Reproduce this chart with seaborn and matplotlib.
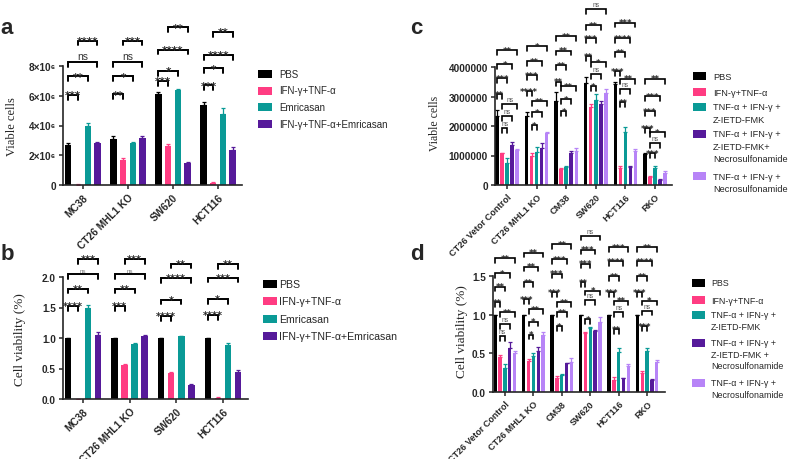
import numpy as np
import pandas as pd
import matplotlib
matplotlib.use("Agg")
import matplotlib.pyplot as plt
from matplotlib.patches import Rectangle
import seaborn as sns

# ---------------- data ----------------
lines_ab = ["MC38", "CT26 MHL1 KO", "SW620", "HCT116"]
treat_ab = ["PBS", "IFN-γ+TNF-α", "Emricasan", "IFN-γ+TNF-α+Emricasan"]

lines_cd = ["CT26 Vetor Control", "CT26 MHL1 KO", "CM38", "SW620", "HCT116", "RKO"]
treat_cd = ["PBS", "IFN-γ+TNF-α", "TNF-α + IFN-γ + Z-IETD-FMK",
            "TNF-α + IFN-γ + Z-IETD-FMK + Necrosulfonamide",
            "TNF-α + IFN-γ + Necrosulfonamide"]
legend_c = ["PBS", "IFN-γ+TNF-α", "TNF-α + IFN-γ +\nZ-IETD-FMK",
            "TNF-α + IFN-γ +\nZ-IETD-FMK+\nNecrosulfonamide",
            "TNF-α + IFN-γ +\nNecrosulfonamide"]
legend_d = ["PBS", "IFN-γ+TNF-α", "TNF-α + IFN-γ +\nZ-IETD-FMK",
            "TNF-α + IFN-γ +\nZ-IETD-FMK +\nNecrosulfonamide",
            "TNF-α + IFN-γ +\nNecrosulfonamide"]

# panel a - viable cells, one row per treatment (columns follow lines_ab)
a_mean = [[2.70e6, 3.10e6, 6.15e6, 5.35e6],
          [0.03e6, 1.70e6, 2.65e6, 0.15e6],
          [4.00e6, 2.80e6, 6.40e6, 4.80e6],
          [2.85e6, 3.15e6, 1.45e6, 2.35e6]]
a_sem = [[0.10e6, 0.18e6, 0.10e6, 0.22e6],
         [0.01e6, 0.10e6, 0.10e6, 0.04e6],
         [0.16e6, 0.10e6, 0.04e6, 0.35e6],
         [0.03e6, 0.15e6, 0.08e6, 0.20e6]]
a_yticks = [0, 2e6, 4e6, 6e6, 8e6]
a_yticklabels = ["0", "2×10⁶", "4×10⁶", "6×10⁶", "8×10⁶"]

# panel b - cell viability
b_mean = [[1.00, 1.00, 1.00, 1.00],
          [0.005, 0.55, 0.43, 0.02],
          [1.49, 0.90, 1.03, 0.88],
          [1.05, 1.03, 0.23, 0.44]]
b_sem = [[0.0, 0.0, 0.0, 0.0],
         [0.0, 0.02, 0.01, 0.01],
         [0.05, 0.02, 0.01, 0.04],
         [0.05, 0.02, 0.01, 0.03]]
b_yticks = [0.0, 0.5, 1.0, 1.5, 2.0]

# panel c - viable cells
c_mean = [[2.35e6, 2.35e6, 2.86e6, 3.45e6, 3.42e6, 1.05e6],
          [1.07e6, 0.97e6, 0.53e6, 2.64e6, 0.56e6, 0.27e6],
          [0.76e6, 1.12e6, 0.62e6, 2.89e6, 1.78e6, 0.57e6],
          [1.35e6, 1.24e6, 1.07e6, 2.74e6, 0.62e6, 0.18e6],
          [1.19e6, 1.75e6, 1.15e6, 3.11e6, 1.15e6, 0.42e6]]
c_sem = [[0.20e6, 0.12e6, 0.30e6, 0.20e6, 0.06e6, 0.03e6],
         [0.03e6, 0.12e6, 0.03e6, 0.12e6, 0.10e6, 0.05e6],
         [0.17e6, 0.17e6, 0.02e6, 0.20e6, 0.20e6, 0.06e6],
         [0.12e6, 0.20e6, 0.07e6, 0.12e6, 0.03e6, 0.02e6],
         [0.03e6, 0.04e6, 0.10e6, 0.15e6, 0.08e6, 0.05e6]]
c_yticks = [0, 1000000, 2000000, 3000000, 4000000]

# panel d - cell viability
d_mean = [[1.00, 1.00, 1.00, 1.00, 1.00, 1.00],
          [0.45, 0.40, 0.185, 0.76, 0.16, 0.24],
          [0.31, 0.47, 0.215, 0.83, 0.52, 0.53],
          [0.57, 0.53, 0.37, 0.79, 0.175, 0.155],
          [0.50, 0.74, 0.39, 0.90, 0.34, 0.39]]
d_sem = [[0, 0, 0, 0, 0, 0],
         [0.03, 0.03, 0.02, 0.02, 0.03, 0.03],
         [0.05, 0.04, 0.02, 0.01, 0.05, 0.04],
         [0.08, 0.05, 0.01, 0.01, 0.01, 0.01],
         [0.03, 0.03, 0.05, 0.07, 0.02, 0.03]]
d_yticks = [0.0, 0.5, 1.0, 1.5]

# significance: comparisons (hue index pairs), labels per cell line
pairs_ab = [(0, 1), (0, 2), (0, 3), (1, 3)]
a_sig = [["***", "**", "ns", "****"], ["**", "*", "ns", "***"],
         ["***", "*", "****", "**"], ["***", "*", "****", "**"]]
a_sig_y = [[6.05e6, 7.3e6, 8.27e6, 9.7e6], [6.1e6, 7.3e6, 8.27e6, 9.7e6],
           [7.0e6, 7.66e6, 9.1e6, 10.6e6], [6.7e6, 7.85e6, 8.74e6, 10.3e6]]
b_sig = [["****", "**", "ns", "***"], ["***", "**", "ns", "***"],
         ["****", "*", "****", "**"], ["****", "*", "***", "**"]]
b_sig_y = [[1.53, 1.81, 2.05, 2.3], [1.53, 1.81, 2.05, 2.3],
           [1.36, 1.63, 1.98, 2.22], [1.38, 1.64, 1.99, 2.21]]

pairs_cd = [(1, 2), (1, 3), (1, 4), (0, 1), (0, 2), (0, 3), (0, 4)]
c_sig = [["ns", "ns", "ns", "**", "***", "*", "**"],
         ["*", "*", "**", "****", "***", "**", "*"],
         ["*", "*", "**", "**", "**", "**", "**"],
         ["*", "ns", "*", "**", "***", "**", "ns"],
         ["**", "ns", "**", "***", "**", "****", "***"],
         ["***", "ns", "*", "***", "***", "***", "**"]]
c_sig_y = [[1.93e6, 2.34e6, 2.75e6, 3.08e6, 3.63e6, 4.10e6, 4.58e6],
           [2.03e6, 2.47e6, 2.85e6, 3.19e6, 3.73e6, 4.20e6, 4.70e6],
           [2.50e6, 2.90e6, 3.35e6, 3.50e6, 4.07e6, 4.55e6, 5.05e6],
           [3.35e6, 3.76e6, 4.17e6, 4.37e6, 4.98e6, 5.42e6, 5.96e6],
           [2.80e6, 3.25e6, 3.60e6, 3.87e6, 4.50e6, 4.98e6, 5.50e6],
           [1.08e6, 1.42e6, 1.80e6, 1.93e6, 2.50e6, 3.02e6, 3.60e6]]
d_sig = [["ns", "ns", "**", "**", "**", "*", "**"],
         ["*", "*", "**", "***", "**", "**", "**"],
         ["*", "**", "**", "***", "***", "***", "**"],
         ["*", "ns", "*", "**", "***", "***", "ns"],
         ["**", "ns", "**", "***", "**", "****", "***"],
         ["***", "ns", "*", "***", "**", "****", "**"]]
d_sig_y = [[0.72, 0.88, 1.03, 1.16, 1.36, 1.54, 1.73],
           [0.74, 0.91, 1.07, 1.20, 1.42, 1.62, 1.80],
           [0.85, 1.03, 1.16, 1.29, 1.53, 1.72, 1.91],
           [0.94, 1.19, 1.31, 1.42, 1.66, 1.84, 2.02],
           [0.81, 1.03, 1.18, 1.29, 1.50, 1.69, 1.87],
           [0.85, 1.05, 1.18, 1.29, 1.50, 1.69, 1.87]]

pal_ab = ["#000000", "#ff3c82", "#0a9a96", "#561a9a"]
pal_cd = ["#000000", "#ff3c82", "#0a9a96", "#561a9a", "#b784f7"]

# ---------------- style ----------------
sns.set_style("ticks")
plt.rcParams["font.family"] = ["Liberation Sans", "DejaVu Sans"]
plt.rcParams["axes.linewidth"] = 1.2
plt.rcParams["xtick.major.width"] = 1.1
plt.rcParams["ytick.major.width"] = 1.1
plt.rcParams["xtick.major.size"] = 3
plt.rcParams["ytick.major.size"] = 3

W, H = 790, 460
fig = plt.figure(figsize=(7.9, 4.6), dpi=100)


def fx(px):
    return px / W


def fy(py):
    return 1 - py / H


def add_axes(left, top, right, bottom):
    return fig.add_axes([fx(left), fy(bottom), fx(right - left), (bottom - top) / H])


def draw_bars(ax, mean, sem, lines, treats, pal, width, gap):
    rows = []
    for t, vals in zip(treats, mean):
        for ln, v in zip(lines, vals):
            rows.append({"line": ln, "treat": t, "value": v})
    df = pd.DataFrame(rows)
    sns.barplot(data=df, x="line", y="value", hue="treat", order=lines,
                hue_order=treats, palette=pal, width=width, gap=gap,
                errorbar=None, saturation=1, legend=False, linewidth=0, ax=ax)
    xs = []
    conts = list(ax.containers)
    for h, cont in enumerate(conts):
        cx = [p.get_x() + p.get_width() / 2 for p in cont]
        cy = [p.get_height() for p in cont]
        ax.errorbar(cx, cy, yerr=[np.zeros(len(cx)), sem[h]], fmt="none",
                    ecolor=pal[h], elinewidth=0.9, capsize=1.5, capthick=0.9)
        xs.append(cx)
    ax.set_xlabel("")
    ax.set_ylabel("")
    return xs


def draw_sig(ax, xs, pairs, heights, labels, leg, lw, star_fs, ns_fs, ns_col):
    for g in range(len(heights)):
        for (i, j), y, lab in zip(pairs, heights[g], labels[g]):
            x1, x2 = xs[i][g], xs[j][g]
            ax.plot([x1, x1, x2, x2], [y - leg, y, y, y - leg], color="k",
                    lw=lw, clip_on=False, solid_joinstyle="miter")
            if lab == "ns":
                ax.annotate(lab, ((x1 + x2) / 2, y), xytext=(0, 0.8),
                            textcoords="offset points", ha="center", va="bottom",
                            fontsize=ns_fs, color=ns_col, annotation_clip=False)
            else:
                ax.annotate(lab, ((x1 + x2) / 2, y), xytext=(0, -0.32 * star_fs),
                            textcoords="offset points", ha="center", va="baseline",
                            fontsize=star_fs, fontweight="bold",
                            family="DejaVu Sans", annotation_clip=False)


def finish(ax, lines, xlim, ylim, yticks, yticklabels, xfs):
    ax.set_xlim(*xlim)
    ax.set_ylim(*ylim)
    ax.set_xticks(range(len(lines)))
    ax.set_xticklabels(lines, rotation=45, ha="right", va="top",
                       rotation_mode="anchor", fontweight="bold", fontsize=xfs)
    ax.set_yticks(yticks)
    ax.set_yticklabels(yticklabels, fontweight="bold", fontsize=7.2)
    ax.tick_params(axis="x", pad=2)
    ax.tick_params(axis="y", pad=2)
    sns.despine(ax=ax)


def draw_legend(x_box, x_text, rows_y, labels, pal, fs, line_h, box_w, box_h):
    for y0, lab, col in zip(rows_y, labels, pal):
        fig.add_artist(Rectangle((fx(x_box), fy(y0 + box_h / 2)), box_w / W, box_h / H,
                                 transform=fig.transFigure, color=col, lw=0))
        for k, part in enumerate(lab.split("\n")):
            fig.text(fx(x_text), fy(y0 + k * line_h), part, fontsize=fs, va="center")


# ---------------- panel a ----------------
ax_a = add_axes(63, 67, 242, 186)
xs_a = draw_bars(ax_a, a_mean, a_sem, lines_ab, treat_ab, pal_ab, 0.86, 0.35)
finish(ax_a, lines_ab, (-0.44, 3.53), (0, 8e6), a_yticks, a_yticklabels, 7.3)
draw_sig(ax_a, xs_a, pairs_ab, a_sig_y, a_sig, 3.2e5, 1.4, 7.5, 7.5, "#333333")
draw_legend(258, 279, [75, 91.5, 108, 125], treat_ab, pal_ab, 7, 12, 14, 8)
fig.text(fx(12), fy(127), "Viable cells", rotation=90, ha="center", va="center",
         family="Liberation Serif", fontsize=9)
fig.text(fx(7), fy(28), "a", fontsize=16, fontweight="bold", ha="center", va="center")

# ---------------- panel b ----------------
ax_b = add_axes(63, 278, 248, 400)
xs_b = draw_bars(ax_b, b_mean, b_sem, lines_ab, treat_ab, pal_ab, 0.86, 0.35)
finish(ax_b, lines_ab, (-0.43, 3.54), (0, 2.0), b_yticks,
       [f"{t:.1f}" for t in b_yticks], 7.3)
draw_sig(ax_b, xs_b, pairs_ab, b_sig_y, b_sig, 0.08, 1.4, 7, 4.5, "#777777")
draw_legend(263, 279, [285, 302, 320, 337], treat_ab, pal_ab, 7.6, 12, 14, 8)
fig.text(fx(20), fy(340), "Cell viability (%)", rotation=90, ha="center", va="center",
         family="Liberation Serif", fontsize=9.5)
fig.text(fx(7), fy(254), "b", fontsize=16, fontweight="bold", ha="center", va="center")

# ---------------- panel c ----------------
ax_c = add_axes(495, 68, 672, 186)
xs_c = draw_bars(ax_c, c_mean, c_sem, lines_cd, treat_cd, pal_cd, 0.85, 0.3)
finish(ax_c, lines_cd, (-0.41, 5.58), (0, 4e6), c_yticks,
       [str(t) for t in c_yticks], 6.6)
draw_sig(ax_c, xs_c, pairs_cd, c_sig_y, c_sig, 1.6e5, 1.2, 6, 4.8, "#555555")
draw_legend(693, 713, [77, 93, 108, 135, 177], legend_c, pal_cd, 6.7, 12.5, 13, 7.5)
fig.text(fx(435), fy(123), "Viable cells", rotation=90, ha="center", va="center",
         family="Liberation Serif", fontsize=8.5)
fig.text(fx(416), fy(28), "c", fontsize=16, fontweight="bold", ha="center", va="center")

# ---------------- panel d ----------------
ax_d = add_axes(493, 277, 665, 393)
xs_d = draw_bars(ax_d, d_mean, d_sem, lines_cd, treat_cd, pal_cd, 0.85, 0.3)
finish(ax_d, lines_cd, (-0.42, 5.63), (0, 1.5), d_yticks,
       [f"{t:.1f}" for t in d_yticks], 6.5)
draw_sig(ax_d, xs_d, pairs_cd, d_sig_y, d_sig, 0.06, 1.2, 6, 4.8, "#555555")
draw_legend(692, 711, [284, 301, 316, 344, 384], legend_d, pal_cd, 6.4, 11.5, 13, 7.5)
fig.text(fx(462), fy(332), "Cell viability (%)", rotation=90, ha="center", va="center",
         family="Liberation Serif", fontsize=9.5)
fig.text(fx(417), fy(254), "d", fontsize=16, fontweight="bold", ha="center", va="center")

fig.savefig("out.png", dpi=100)
